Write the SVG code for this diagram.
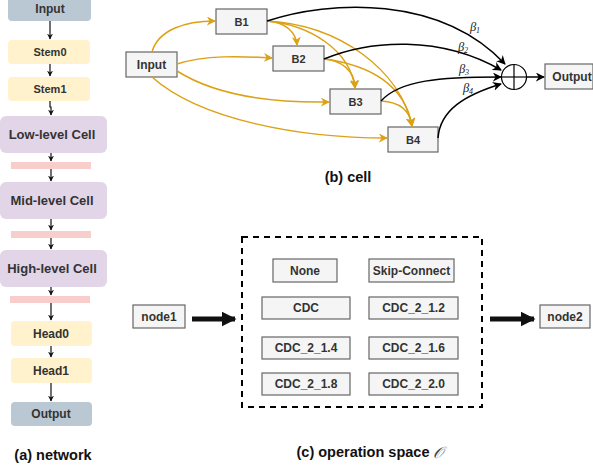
<svg xmlns="http://www.w3.org/2000/svg" width="593" height="469" viewBox="0 0 593 469">
<defs>
<style>
text{font-family:"Liberation Sans",Arial,sans-serif;font-weight:bold;text-anchor:middle;dominant-baseline:central;fill:#333333}
.cap{font-size:14.5px;fill:#111111}
.t11{font-size:11px}
.t12{font-size:12px}
.t13{font-size:13px}
.gbox{fill:#F5F5F5;stroke:#666666;stroke-width:1.2}
.blue{fill:#BAC8D3}
.yel{fill:#FFF2CC}
.pur{fill:#E1D5E7}
.pink{fill:#F8CECC}
.ln{fill:none;stroke:#111111;stroke-width:1.2}
.or{fill:none;stroke:#DCA114;stroke-width:1.5}
.bk{fill:none;stroke:#000000;stroke-width:1.5}
.lbl{font-family:"Liberation Serif","DejaVu Serif",serif;font-style:italic;font-weight:normal;font-size:12.5px;fill:#222222}
</style>
<marker id="ah" viewBox="0 0 10 10" refX="9" refY="5" markerWidth="6" markerHeight="6" markerUnits="userSpaceOnUse" orient="auto"><path d="M0,0 L10,5 L0,10 L3,5z" fill="#111111"/></marker>
<marker id="ao" viewBox="0 0 10 10" refX="9" refY="5" markerWidth="9" markerHeight="9" markerUnits="userSpaceOnUse" orient="auto"><path d="M0,0 L10,5 L0,10 L3,5z" fill="#DCA114"/></marker>
<marker id="ab" viewBox="0 0 10 10" refX="9" refY="5" markerWidth="9" markerHeight="9" markerUnits="userSpaceOnUse" orient="auto"><path d="M0,0 L10,5 L0,10 L3,5z" fill="#000000"/></marker>
<marker id="at" viewBox="0 0 10 10" refX="9" refY="5" markerWidth="15" markerHeight="15" markerUnits="userSpaceOnUse" orient="auto"><path d="M0,0 L10,5 L0,10 z" fill="#111111"/></marker>
</defs>

<!-- (a) network -->
<g id="net-input"><rect class="blue" x="8" y="-5" width="83" height="26" rx="4"/><text class="t12" x="50" y="9">Input</text></g>
<g id="net-stem0"><rect class="yel" x="8" y="40" width="82" height="24" rx="4"/><text class="t11" x="50" y="52">Stem0</text></g>
<g id="net-stem1"><rect class="yel" x="8" y="77" width="82" height="24" rx="4"/><text class="t11" x="50" y="89">Stem1</text></g>
<g id="net-low"><rect class="pur" x="0" y="116" width="107" height="37" rx="6"/><text class="t13" x="52" y="134.5">Low-level Cell</text></g>
<g id="net-bar1"><rect class="pink" x="11" y="162" width="80" height="7"/></g>
<g id="net-mid"><rect class="pur" x="0" y="182" width="107" height="37" rx="6"/><text class="t13" x="52" y="200.5">Mid-level Cell</text></g>
<g id="net-bar2"><rect class="pink" x="11" y="231" width="80" height="7"/></g>
<g id="net-high"><rect class="pur" x="0" y="250" width="107" height="37" rx="6"/><text class="t13" x="52" y="268.5">High-level Cell</text></g>
<g id="net-bar3"><rect class="pink" x="10" y="296" width="80" height="7"/></g>
<g id="net-head0"><rect class="yel" x="11" y="321" width="81" height="25" rx="4"/><text class="t12" x="51" y="333.5">Head0</text></g>
<g id="net-head1"><rect class="yel" x="11" y="358" width="81" height="25" rx="4"/><text class="t12" x="51" y="370.5">Head1</text></g>
<g id="net-output"><rect class="blue" x="11" y="402" width="81" height="24" rx="4"/><text class="t12" x="51" y="414">Output</text></g>
<text class="cap" x="53" y="455">(a) network</text>

<g id="net-edges">
<line class="ln" x1="50" y1="21" x2="50" y2="39" marker-end="url(#ah)"/>
<line class="ln" x1="50" y1="64" x2="50" y2="76" marker-end="url(#ah)"/>
<polyline class="ln" points="50,101 50,107 51,107 51,115" marker-end="url(#ah)"/>
<line class="ln" x1="51" y1="153" x2="51" y2="161" marker-end="url(#ah)"/>
<line class="ln" x1="51" y1="169" x2="51" y2="181" marker-end="url(#ah)"/>
<line class="ln" x1="51" y1="219" x2="51" y2="230" marker-end="url(#ah)"/>
<line class="ln" x1="51" y1="238" x2="51" y2="249" marker-end="url(#ah)"/>
<line class="ln" x1="51" y1="287" x2="51" y2="295" marker-end="url(#ah)"/>
<line class="ln" x1="51" y1="303" x2="51" y2="320" marker-end="url(#ah)"/>
<line class="ln" x1="51" y1="346" x2="51" y2="357" marker-end="url(#ah)"/>
<line class="ln" x1="51" y1="383" x2="51" y2="401" marker-end="url(#ah)"/>
</g>

<!-- (b) cell -->
<g id="cell-input"><rect class="gbox" x="126" y="52" width="51" height="25"/><text class="t12" x="151.5" y="64.5">Input</text></g>
<g id="cell-b1"><rect class="gbox" x="216" y="9" width="51" height="25"/><text class="t11" x="241.5" y="21.5">B1</text></g>
<g id="cell-b2"><rect class="gbox" x="273" y="46" width="51" height="25"/><text class="t11" x="298.5" y="58.5">B2</text></g>
<g id="cell-b3"><rect class="gbox" x="330" y="89" width="51" height="25"/><text class="t11" x="355.5" y="101.5">B3</text></g>
<g id="cell-b4"><rect class="gbox" x="388" y="127" width="50" height="25"/><text class="t11" x="413" y="139.5">B4</text></g>
<g id="cell-sum"><circle cx="514" cy="77" r="12.5" fill="#FFFFFF" stroke="#000000" stroke-width="1.2"/><line x1="501.5" y1="77" x2="526.5" y2="77" stroke="#000" stroke-width="1.2"/><line x1="514" y1="64.5" x2="514" y2="89.5" stroke="#000" stroke-width="1.2"/></g>
<g id="cell-output"><rect class="gbox" x="545" y="64" width="48" height="25"/><text class="t12" x="572" y="76.5">Output</text></g>
<text class="cap" x="348" y="177">(b) cell</text>

<g id="cell-edges">
<path class="or" d="M152,52 C158,30 185,21 215,21" marker-end="url(#ao)"/>
<path class="or" d="M177,64 C205,55 240,56 272,58" marker-end="url(#ao)"/>
<path class="or" d="M177,71 C215,95 270,103 329,102" marker-end="url(#ao)"/>
<path class="or" d="M152,77 C200,120 300,138 387,138" marker-end="url(#ao)"/>
<path class="or" d="M267,21 C285,22 296,32 297,45" marker-end="url(#ao)"/>
<path class="or" d="M267,21 C310,25 350,50 355,88" marker-end="url(#ao)"/>
<path class="or" d="M324,59 C340,60 355,70 355,88" marker-end="url(#ao)"/>
<path class="or" d="M267,21 C340,25 400,70 412,126" marker-end="url(#ao)"/>
<path class="or" d="M324,59 C370,65 405,85 412,126" marker-end="url(#ao)"/>
<path class="or" d="M381,101 C400,102 410,110 412,126" marker-end="url(#ao)"/>
<path class="bk" d="M267,21 C330,0 440,-5 505,64" marker-end="url(#ab)"/>
<path class="bk" d="M324,59 C370,40 440,35 501,70" marker-end="url(#ab)"/>
<path class="bk" d="M381,101 C400,80 440,77 501,77" marker-end="url(#ab)"/>
<path class="bk" d="M438,138 C440,110 465,95 501,84" marker-end="url(#ab)"/>
<line class="bk" x1="526.5" y1="77" x2="544" y2="77" marker-end="url(#ab)"/>
<text class="lbl" x="475" y="27">β<tspan font-size="8" dy="3">1</tspan></text>
<text class="lbl" x="463" y="47">β<tspan font-size="8" dy="3">2</tspan></text>
<text class="lbl" x="464" y="69">β<tspan font-size="8" dy="3">3</tspan></text>
<text class="lbl" x="468" y="88">β<tspan font-size="8" dy="3">4</tspan></text>
</g>

<!-- (c) operation space -->
<g id="op-space"><rect x="242" y="237" width="240" height="170" fill="none" stroke="#000000" stroke-width="2" stroke-dasharray="6 5"/></g>
<g id="op-none"><rect class="gbox" x="273" y="259" width="64" height="23"/><text class="t12" x="305" y="270.5">None</text></g>
<g id="op-skip"><rect class="gbox" x="369" y="259" width="85" height="23"/><text class="t12" x="411.5" y="270.5">Skip-Connect</text></g>
<g id="op-cdc"><rect class="gbox" x="262" y="297" width="88" height="22"/><text class="t12" x="306" y="308">CDC</text></g>
<g id="op-cdc12"><rect class="gbox" x="369" y="297" width="89" height="22"/><text class="t12" x="413.5" y="308">CDC_2_1.2</text></g>
<g id="op-cdc14"><rect class="gbox" x="262" y="337" width="88" height="22"/><text class="t12" x="306" y="348">CDC_2_1.4</text></g>
<g id="op-cdc16"><rect class="gbox" x="369" y="337" width="89" height="22"/><text class="t12" x="413.5" y="348">CDC_2_1.6</text></g>
<g id="op-cdc18"><rect class="gbox" x="262" y="373" width="88" height="22"/><text class="t12" x="306" y="384">CDC_2_1.8</text></g>
<g id="op-cdc20"><rect class="gbox" x="369" y="373" width="89" height="22"/><text class="t12" x="413.5" y="384">CDC_2_2.0</text></g>
<g id="op-node1"><rect class="gbox" x="133" y="305" width="52" height="23"/><text class="t12" x="159" y="316.5">node1</text></g>
<g id="op-node2"><rect class="gbox" x="540" y="305" width="50" height="23"/><text class="t12" x="565" y="316.5">node2</text></g>
<g id="op-edges">
<line x1="192" y1="319" x2="235" y2="319" stroke="#111111" stroke-width="5" marker-end="url(#at)"/>
<line x1="490" y1="319" x2="534" y2="319" stroke="#111111" stroke-width="5" marker-end="url(#at)"/>
</g>
<text class="cap" x="370" y="452">(c) operation space <tspan font-family="DejaVu Sans,serif" font-style="italic" font-weight="normal" font-size="16" fill="#444444">𝒪</tspan></text>
</svg>
